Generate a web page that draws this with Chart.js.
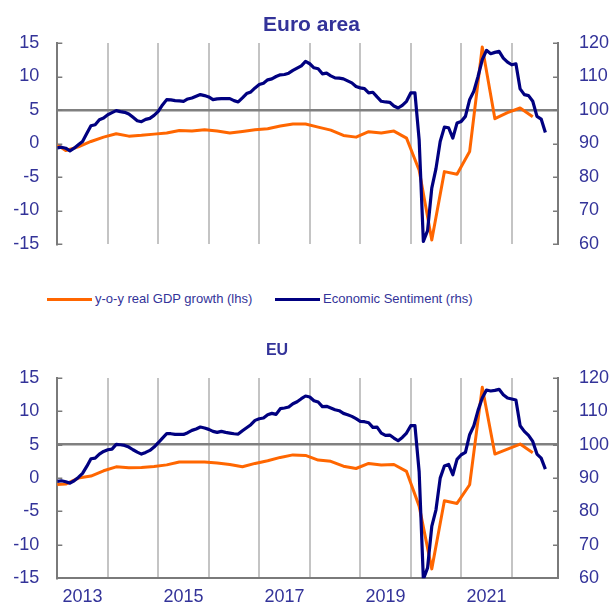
<!DOCTYPE html>
<html>
<head>
<meta charset="utf-8">
<script src="https://cdn.jsdelivr.net/npm/chart.js@4.4.1/dist/chart.umd.min.js"></script>
<style>
html,body{margin:0;padding:0;background:#fff;}
body{width:613px;height:610px;position:relative;overflow:hidden;font-family:'Liberation Sans',Arial,sans-serif;}
canvas{position:absolute;left:0;}
#c1{top:0;}
#c2{top:330px;}
.lg-sw{position:absolute;height:3px;width:45px;top:298px;}
.lg-tx{position:absolute;top:291px;font-size:13px;line-height:16px;color:#333399;white-space:nowrap;}
</style>
</head>
<body>
<canvas id="c1" width="613" height="280"></canvas>
<canvas id="c2" width="613" height="280"></canvas>
<div id="legend"></div>
<script>
// ---------- data ----------
const titles = ['Euro area', 'EU'];
const seriesNames = ['y-o-y real GDP growth (lhs)', 'Economic Sentiment (rhs)'];
const yearLabels = ['2013', '2015', '2017', '2019', '2021'];
const leftTicks = [-15, -10, -5, 0, 5, 10, 15];
const rightTicks = [60, 70, 80, 90, 100, 110, 120];

// Economic sentiment, monthly from 2013-01
const esiStart = '2013-01';
const esiEA = [88.7, 88.9, 88.6, 87.8, 88.6, 89.6, 90.6, 93.0, 95.3, 95.6,
  97.1, 97.6, 98.6, 99.2, 99.8, 99.5, 99.3, 98.8, 97.8, 96.8,
  96.5, 97.2, 97.5, 98.4, 99.6, 101.5, 103.1, 103.0, 102.8, 102.7,
  102.6, 103.3, 103.6, 104.1, 104.6, 104.3, 103.9, 103.1, 103.3, 103.4,
  103.4, 103.4, 102.8, 102.4, 103.6, 104.9, 105.4, 106.6, 107.6, 108.0,
  109.0, 109.3, 110.0, 110.5, 110.6, 111.0, 111.8, 112.5, 113.2, 114.5,
  113.8, 112.6, 112.3, 110.8, 111.0, 110.2, 109.6, 109.5, 109.3, 108.7,
  108.1, 107.0, 106.6, 106.4, 105.1, 105.3, 103.9, 102.6, 102.4, 102.3,
  101.2, 100.6, 101.4, 102.6, 105.1, 105.1, 91.1, 60.8, 64.0, 76.7,
  82.5, 90.6, 94.9, 94.7, 91.6, 96.1, 96.6, 98.1, 103.1, 105.6,
  110.0, 115.0, 117.8, 116.8, 117.2, 117.5, 115.5, 114.3, 113.5, 113.8,
  106.3, 104.6, 104.3, 102.6, 98.1, 97.3, 93.3];
const esiEU = [89.0, 89.2, 88.9, 88.5, 89.2, 90.2, 91.4, 93.5, 95.8, 96.0,
  97.2, 98.0, 98.5, 98.7, 100.1, 100.0, 99.8, 99.3, 98.5, 97.8,
  97.2, 97.7, 98.3, 99.3, 100.6, 102.0, 103.3, 103.3, 103.1, 103.1,
  103.1, 103.6, 104.3, 104.7, 105.3, 105.0, 104.6, 104.0, 103.7, 104.0,
  103.7, 103.5, 103.3, 103.2, 104.2, 105.1, 106.0, 107.3, 107.8, 108.0,
  109.0, 109.4, 109.1, 110.8, 111.0, 111.3, 112.3, 112.9, 113.8, 114.6,
  114.3, 113.2, 112.8, 111.4, 111.5, 111.0, 110.5, 110.2, 109.4, 109.0,
  108.5, 107.8, 107.0, 106.9, 106.6, 105.2, 105.3, 103.5, 102.8, 102.9,
  102.0, 101.2, 102.2, 103.5, 105.7, 105.7, 91.9, 59.7, 63.1, 75.5,
  80.5, 90.0, 93.6, 94.1, 91.0, 95.6, 97.0, 97.7, 103.0, 105.7,
  110.3, 114.0, 116.4, 116.1, 116.3, 116.6, 115.0, 114.0, 113.7, 113.4,
  105.7, 104.0, 102.8, 101.0, 97.2, 96.0, 92.7];

// Real GDP growth y-o-y, quarterly
const gdpQuarters = ['2012Q4',
  '2013Q1','2013Q2','2013Q3','2013Q4','2014Q1','2014Q2','2014Q3','2014Q4',
  '2015Q1','2015Q2','2015Q3','2015Q4','2016Q1','2016Q2','2016Q3','2016Q4',
  '2017Q1','2017Q2','2017Q3','2017Q4','2018Q1','2018Q2','2018Q3','2018Q4',
  '2019Q1','2019Q2','2019Q3','2019Q4','2020Q1','2020Q2','2020Q3','2020Q4',
  '2021Q1','2021Q2','2021Q3','2021Q4','2022Q1','2022Q2'];
const gdpEA = [0.2,
  -1.05, -0.5, 0.3, 0.95, 1.46, 1.1, 1.22, 1.4,
  1.57, 1.95, 1.85, 2.05, 1.85, 1.57, 1.8, 2.05,
  2.2, 2.6, 2.91, 2.91, 2.45, 2.0, 1.21, 0.95,
  1.76, 1.57, 1.85, 0.8, -4.0, -14.4, -4.2, -4.6,
  -1.2, 14.4, 3.7, 4.6, 5.3, 4.0];
const gdpEU = [-1.0,
  -0.9, 0.0, 0.3, 1.1, 1.69, 1.55, 1.6, 1.73,
  1.98, 2.42, 2.42, 2.4, 2.27, 2.03, 1.7, 2.2,
  2.6, 3.1, 3.48, 3.4, 2.7, 2.52, 1.79, 1.44,
  2.2, 1.95, 2.03, 1.0, -4.2, -13.6, -3.4, -3.8,
  -1.0, 13.6, 3.6, 4.35, 5.1, 3.8];

// ---------- helpers ----------
const BASE_YEAR = 2013;
function monthIdx(y, m) { return (y - BASE_YEAR) * 12 + (m - 1); }
function quarterIdx(q) { return monthIdx(+q.slice(0, 4), (+q.slice(5)) * 3); }
function esiPoints(arr) {
  const y0 = +esiStart.slice(0, 4), m0 = +esiStart.slice(5);
  return arr.map((v, i) => ({ x: monthIdx(y0, m0) + i, y: v }));
}
function gdpPoints(arr) { return arr.map((v, i) => ({ x: quarterIdx(gdpQuarters[i]), y: v })); }
const yearLabelPos = {};
yearLabels.forEach(l => { yearLabelPos[monthIdx(+l, 7)] = l; });

const ORANGE = '#FF6600', NAVY = '#000080', TXT = '#333399';
const AXIS = '#7a7a7a', VGRID = '#c4c4c4', HLINE = '#808080';
const FONT = "'Liberation Sans', Arial, sans-serif";
Chart.defaults.font.family = FONT;

// HTML legend (series names + colours)
(function () {
  const lg = document.getElementById('legend');
  const items = [{ name: seriesNames[0], color: ORANGE, sw: 47, tx: 95 },
                 { name: seriesNames[1], color: NAVY, sw: 275, tx: 323 }];
  items.forEach(it => {
    const s = document.createElement('div'); s.className = 'lg-sw';
    s.style.left = it.sw + 'px'; s.style.background = it.color; lg.appendChild(s);
    const t = document.createElement('div'); t.className = 'lg-tx';
    t.style.left = it.tx + 'px'; t.textContent = it.name; lg.appendChild(t);
  });
})();

const innerTicks = {
  id: 'innerTicks',
  afterDatasetsDraw(chart) {
    const ctx = chart.ctx, a = chart.chartArea;
    ctx.save();
    ctx.strokeStyle = AXIS; ctx.lineWidth = 1.5;
    ['y', 'y1'].forEach(id => {
      const s = chart.scales[id];
      s.ticks.forEach(t => {
        const p = Math.round(s.getPixelForValue(t.value)) + 0.25;
        ctx.beginPath();
        if (id === 'y') { ctx.moveTo(a.left, p); ctx.lineTo(a.left + 5, p); }
        else { ctx.moveTo(a.right - 5, p); ctx.lineTo(a.right, p); }
        ctx.stroke();
      });
    });
    ctx.restore();
  }
};
const titleAt = {
  id: 'titleAt',
  afterDraw(chart, args, o) {
    const ctx = chart.ctx;
    ctx.save();
    ctx.font = o.font; ctx.fillStyle = o.color;
    ctx.textAlign = 'center'; ctx.textBaseline = 'middle';
    ctx.fillText(o.text, o.x, o.y);
    ctx.restore();
  }
};

function makeChart(id, title, gdp, esi, cfg) {
  return new Chart(document.getElementById(id), {
    type: 'line',
    data: {
      datasets: [
        { label: seriesNames[1], data: esiPoints(esi), yAxisID: 'y1', borderColor: NAVY, backgroundColor: NAVY,
          borderWidth: 3.2, pointRadius: 0, tension: 0, borderJoinStyle: 'round' },
        { label: seriesNames[0], data: gdpPoints(gdp), yAxisID: 'y', borderColor: ORANGE, backgroundColor: ORANGE,
          borderWidth: 3, pointRadius: 0, tension: 0, borderJoinStyle: 'round' }
      ]
    },
    options: {
      responsive: false, animation: false, devicePixelRatio: 1,
      layout: { padding: cfg.padding },
      scales: {
        x: {
          type: 'linear', min: 0, max: 119,
          afterBuildTicks: s => { const t = []; for (let v = 0; v < 119; v += 6) t.push({ value: v }); s.ticks = t; },
          grid: { color: c => (c.tick && c.tick.value > 0 && c.tick.value % 12 === 0) ? VGRID : 'rgba(0,0,0,0)', lineWidth: 2, drawTicks: false },
          border: { display: cfg.xBorder, color: AXIS, width: 2 },
          ticks: { display: cfg.xLabels, autoSkip: false, maxRotation: 0, padding: 8, color: TXT,
            font: { size: 18 }, callback: v => yearLabelPos[v] || '' },
          afterFit: s => { s.height = cfg.xHeight; }
        },
        y: {
          position: 'left', min: -15, max: 15,
          afterBuildTicks: s => { s.ticks = leftTicks.map(v => ({ value: v })); },
          grid: { color: c => (c.tick && c.tick.value === 5) ? HLINE : 'rgba(0,0,0,0)', lineWidth: 2.5, drawTicks: false },
          border: { color: AXIS, width: 2 },
          ticks: { color: TXT, font: { size: 18 }, padding: 18 },
          afterFit: s => { s.width = 57.3; }
        },
        y1: {
          position: 'right', min: 60, max: 120,
          afterBuildTicks: s => { s.ticks = rightTicks.map(v => ({ value: v })); },
          grid: { drawOnChartArea: false, drawTicks: false },
          border: { color: AXIS, width: 2 },
          ticks: { color: TXT, font: { size: 18 }, padding: 21 },
          afterFit: s => { s.width = 55; }
        }
      },
      plugins: {
        tooltip: { enabled: false },
        legend: { display: false },
        titleAt: { text: title, x: cfg.tx, y: cfg.ty, font: cfg.tfont, color: TXT }
      }
    },
    plugins: [innerTicks, titleAt]
  });
}

makeChart('c1', titles[0], gdpEA, esiEA, {
  padding: { left: 0, top: 43, right: 0, bottom: 0 }, xHeight: 36,
  xBorder: false, xLabels: false,
  tx: 311.5, ty: 25, tfont: "bold 21px " + FONT
});
makeChart('c2', titles[1], gdpEU, esiEU, {
  padding: { left: 0, top: 48, right: 0, bottom: 0 }, xHeight: 25,
  xBorder: true, xLabels: true,
  tx: 277, ty: 21, tfont: "bold 16px " + FONT
});
</script>
</body>
</html>
